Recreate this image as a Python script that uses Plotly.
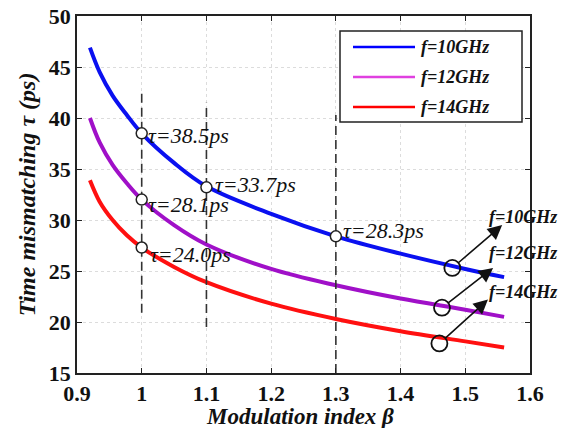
import plotly.graph_objects as go

beta = [0.92, 0.935, 0.955, 0.977, 1.0, 1.05, 1.1, 1.2, 1.3, 1.4, 1.5, 1.56]
tau_10 = [46.9, 44.5, 42.2, 40.3, 38.5, 35.6, 33.3, 30.6, 28.4, 26.7, 25.2, 24.4]
tau_12 = [40.0, 37.6, 35.4, 33.6, 32.0, 29.5, 27.6, 25.2, 23.6, 22.3, 21.2, 20.5]
tau_14 = [33.9, 31.8, 30.0, 28.5, 27.3, 25.4, 23.9, 21.8, 20.3, 19.1, 18.1, 17.5]

names = ["f=10GHz", "f=12GHz", "f=14GHz"]
colors = ["#0000ff", "#e040e0", "#ff0000"]
curve_colors = ["#0a10f0", "#a010c8", "#ff1010"]

mark_beta = [1.0, 1.1, 1.3, 1.0, 1.0]
mark_tau = [38.5, 33.2, 28.4, 32.0, 27.3]
mark_text = ["τ=38.5ps", "τ=33.7ps", "τ=28.3ps", "τ=28.1ps", "τ=24.0ps"]
text_pos = [(1.006, 38.3), (1.11, 33.5), (1.308, 29.0), (1.006, 31.5), (1.01, 26.6)]

vline_beta = [1.0, 1.1, 1.3]
vline_lo = [20.9, 19.5, 15.0]
vline_hi = [42.7, 41.5, 40.3]

ell_beta = [1.48, 1.464, 1.46]
ell_tau = [25.3, 21.4, 17.9]
arrow_beta = [1.557, 1.543, 1.535]
arrow_tau = [29.5, 25.3, 22.2]
lab_y_px = [217, 253, 292]

FONT = "Liberation Serif"
PL, PR, PT, PB = 77, 530, 16, 373
def px_x(p):
    return (p - PL) / (PR - PL)
def px_y(p):
    return (PB - p) / (PB - PT)

fig = go.Figure()
for y, c in zip([tau_10, tau_12, tau_14], curve_colors):
    fig.add_trace(go.Scatter(x=beta, y=y, mode="lines",
                             line=dict(color=c, width=4, shape="spline", smoothing=1.0),
                             showlegend=False, hoverinfo="skip"))

for xb, lo, hi in zip(vline_beta, vline_lo, vline_hi):
    fig.add_trace(go.Scatter(x=[xb, xb], y=[lo, hi], mode="lines",
                             line=dict(color="#333333", width=1.6, dash="9px,5px"),
                             showlegend=False, hoverinfo="skip"))

fig.add_trace(go.Scatter(x=mark_beta, y=mark_tau, mode="markers",
                         marker=dict(symbol="circle", size=11, color="white",
                                     line=dict(color="#222222", width=1.5)),
                         showlegend=False, hoverinfo="skip"))
fig.add_trace(go.Scatter(x=ell_beta, y=ell_tau, mode="markers",
                         marker=dict(symbol="circle-open", size=16, color="#111111",
                                     line=dict(color="#111111", width=1.8)),
                         showlegend=False, hoverinfo="skip"))

for t, (px, py) in zip(mark_text, text_pos):
    fig.add_annotation(x=px, y=py, text=t, showarrow=False, xanchor="left", yanchor="middle",
                       font=dict(family=FONT, size=22, style="italic", color="#111111"))

for eb, et, ab, at in zip(ell_beta, ell_tau, arrow_beta, arrow_tau):
    fig.add_annotation(x=ab, y=at, ax=eb, ay=et, axref="x", ayref="y", xref="x", yref="y",
                       text="", showarrow=True, arrowhead=2, arrowsize=1.8, arrowwidth=1.6,
                       arrowcolor="#111111", standoff=0, startstandoff=6)

for n, yp in zip(names, lab_y_px):
    fig.add_annotation(xref="paper", yref="paper", x=px_x(559), y=px_y(yp), text=n, showarrow=False,
                       xanchor="right", yanchor="middle",
                       font=dict(family=FONT, size=18, style="italic", weight="bold", color="#111111"))

# legend box drawn manually
fig.add_shape(type="rect", xref="paper", yref="paper", x0=px_x(340), x1=px_x(522),
              y0=px_y(122), y1=px_y(31), line=dict(color="#222222", width=1.5),
              fillcolor="white")
for i, (n, c) in enumerate(zip(names, colors)):
    yy = px_y(47 + i * 30)
    fig.add_shape(type="line", xref="paper", yref="paper", x0=px_x(353), x1=px_x(415),
                  y0=yy, y1=yy, line=dict(color=c, width=2.5))
    fig.add_annotation(xref="paper", yref="paper", x=px_x(419), y=yy, text=n, showarrow=False,
                       xanchor="left", yanchor="middle",
                       font=dict(family=FONT, size=18, style="italic", weight="bold", color="#111111"))

# x-axis title placed explicitly
fig.add_annotation(xref="paper", yref="paper", x=px_x(300), y=px_y(416), text="Modulation index β",
                   showarrow=False, xanchor="center", yanchor="middle",
                   font=dict(family=FONT, size=23, style="italic", weight="bold", color="#111111"))

axis_common = dict(showline=True, linecolor="#222222", linewidth=1.5, mirror="ticks",
                   ticks="inside", ticklen=5, tickcolor="#222222",
                   showgrid=True, gridcolor="#dcdcdc", griddash="dot", gridwidth=1,
                   zeroline=False, automargin=False,
                   tickfont=dict(family=FONT, size=22, weight="bold", color="#111111"))
fig.update_xaxes(range=[0.9, 1.6], tickvals=[0.9, 1, 1.1, 1.2, 1.3, 1.4, 1.5, 1.6],
                 ticktext=["0.9", "1", "1.1", "1.2", "1.3", "1.4", "1.5", "1.6"],
                 ticklabelstandoff=0, **axis_common)
fig.update_yaxes(range=[15, 50], tickvals=[15, 20, 25, 30, 35, 40, 45, 50],
                 title=dict(text="Time mismatching τ (ps)", standoff=6,
                            font=dict(family=FONT, size=24, style="italic", weight="bold", color="#111111")),
                 **axis_common)

fig.update_layout(width=564, height=428, margin=dict(l=PL, r=564 - PR, t=PT, b=428 - PB),
                  plot_bgcolor="white", paper_bgcolor="white", showlegend=False)
fig.write_html("out.html")
